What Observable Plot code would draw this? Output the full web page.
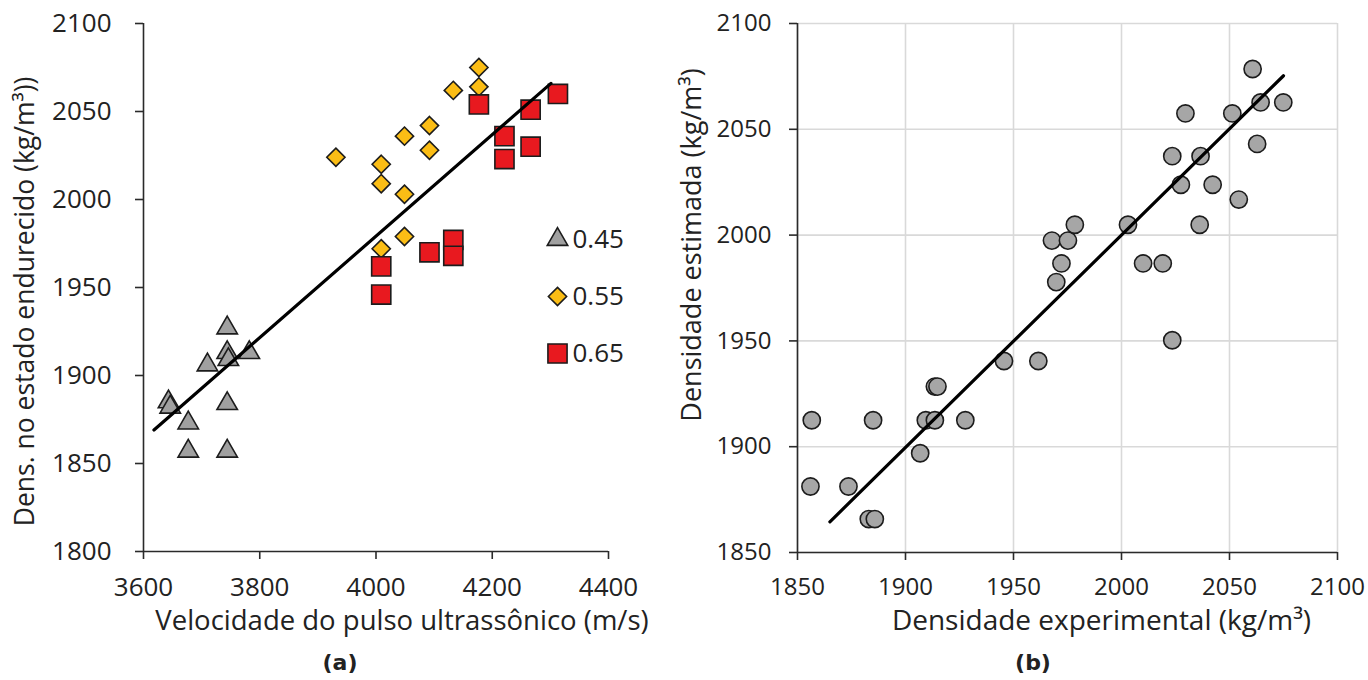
<!DOCTYPE html>
<html>
<head>
<meta charset="utf-8">
<script src="https://cdn.jsdelivr.net/npm/d3@7"></script>
<script src="https://cdn.jsdelivr.net/npm/@observablehq/plot@0.6"></script>
<style>
  html, body { margin: 0; padding: 0; background: #fff; }
  #wrap { position: relative; width: 1368px; height: 680px; overflow: hidden; background: #fff; }
  .panel { position: absolute; top: 0; }
  .cap { position: absolute; top: 649px; font-family: "DejaVu Sans", sans-serif; font-weight: bold; font-size: 22px; line-height: 28px; color: #222; transform: translateX(-50%); }
</style>
</head>
<body>
<div id="wrap">
  <div id="panelA" class="panel" style="left:0px;"></div>
  <div id="legendA" class="panel" style="left:535px;top:210px;"></div>
  <div id="panelB" class="panel" style="left:680px;"></div>
  <div class="cap" style="left:340px;">(a)</div>
  <div class="cap" style="left:1033px;">(b)</div>
</div>
<script>
// ---------- data: panel (a) ----------
const groupLabels = ["0.45", "0.55", "0.65"];
const vel045  = [3643, 3646, 3677, 3677, 3710, 3744, 3744, 3746, 3744, 3744, 3782];
const dens045 = [1885, 1882, 1873, 1857, 1906, 1927, 1913, 1909, 1884, 1857, 1913];
const vel055  = [3931, 4009, 4009, 4049, 4049, 4092, 4092, 4133, 4177, 4177, 4009, 4049];
const dens055 = [2024, 2020, 2009, 2036, 2003, 2042, 2028, 2062, 2075, 2064, 1972, 1979];
const vel065  = [4177, 4266, 4313, 4221, 4221, 4266, 4009, 4009, 4092, 4133, 4133];
const dens065 = [2054, 2051, 2060, 2036, 2023, 2030, 1962, 1946, 1970, 1977, 1968];
const trendAX = [3618, 4301];
const trendAY = [1869, 2066];
const velTicks = [3600, 3800, 4000, 4200, 4400];
const densTicksA = [1800, 1850, 1900, 1950, 2000, 2050, 2100];
const xTitleA = "Velocidade do pulso ultrassônico (m/s)";
const yTitleA = "Dens. no estado endurecido (kg/m³))";

// ---------- data: panel (b) ----------
const expDens = [1856.6, 1856, 1873.6, 1885, 1883, 1885.8, 1906.8, 1909.4, 1913.6, 1913.6, 1914.8, 1927.7,
                 1945.6, 1961.5, 1969.8, 1972.2, 1967.8, 1975.2, 1978.4, 2003, 2010, 2019.1, 2023.5, 2023.5,
                 2027.5, 2029.6, 2036.2, 2036.6, 2042.2, 2051.3, 2054.3, 2060.7, 2062.8, 2064.4, 2074.9];
const estDens = [1912.5, 1881.2, 1881.2, 1912.5, 1865.8, 1865.8, 1896.9, 1912.5, 1912.5, 1928.4, 1928.4, 1912.5,
                 1940.5, 1940.5, 1977.8, 1986.6, 1997.4, 1997.4, 2004.9, 2004.9, 1986.6, 1986.6, 1950.3, 2037.3,
                 2023.8, 2057.5, 2004.9, 2037.3, 2023.8, 2057.5, 2016.8, 2078.5, 2043.1, 2062.7, 2062.7];
const trendBX = [1865, 2075];
const trendBY = [1864.5, 2075.3];
const ticksB = [1850, 1900, 1950, 2000, 2050, 2100];
const xTitleB = "Densidade experimental (kg/m³)";
const yTitleB = "Densidade estimada (kg/m³)";

// ---------- build tables ----------
const zip = (xs, ys) => xs.map((x, i) => ({x, y: ys[i]}));
const ptsA = [zip(vel045, dens045), zip(vel055, dens055), zip(vel065, dens065)];
const trendA = zip(trendAX, trendAY);
const ptsB = zip(expDens, estDens);
const trendB = zip(trendBX, trendBY);

const fmt = d3.format("d");
const font = "'Open Sans', Lato, sans-serif";
const axisColor = "#2a2a2a";
const textColor = "#222222";
const markerStroke = "#1c1c1c";
const styleA = {
  symbols: ["triangle", "diamond2", "square"],
  fills: ["#a0a0a0", "#fbbd15", "#e8191f"],
  radii: [7.6, 8.2, 10.8]
};

const groupDots = (data, g, extra = {}) => Plot.dot(data, {
  symbol: () => styleA.symbols[g],
  ...extra,
  r: styleA.radii[g],
  fill: styleA.fills[g],
  stroke: markerStroke,
  strokeWidth: 1.6
});

// ---------- panel (a) ----------
const plotA = Plot.plot({
  width: 680, height: 640,
  marginLeft: 143, marginRight: 72, marginTop: 23, marginBottom: 89,
  style: {fontFamily: font, color: textColor, background: "transparent", overflow: "visible"},
  x: {domain: [velTicks[0], velTicks[velTicks.length - 1]]},
  y: {domain: [densTicksA[0], densTicksA[densTicksA.length - 1]]},
  symbol: {type: "identity"},
  marks: [
    Plot.ruleY([densTicksA[0]], {stroke: axisColor, strokeWidth: 1.6}),
    Plot.ruleX([velTicks[0]], {stroke: axisColor, strokeWidth: 1.6}),
    Plot.axisX({ticks: velTicks, tickFormat: fmt, tickSize: 8, tickPadding: 18, label: null,
                stroke: axisColor, fill: textColor, strokeWidth: 1.6, fontSize: 26}),
    Plot.axisY({ticks: densTicksA, tickFormat: fmt, tickSize: 8, tickPadding: 24, label: null,
                stroke: axisColor, fill: textColor, strokeWidth: 1.6, fontSize: 26}),
    ...ptsA.map((d, g) => groupDots(d, g, {x: "x", y: "y"})),
    Plot.line(trendA, {x: "x", y: "y", stroke: "#000", strokeWidth: 3.2}),
    Plot.text([xTitleA], {text: d => d, frameAnchor: "bottom", dy: 70, dx: 26, lineAnchor: "middle",
                          fontSize: 27.5, fill: textColor}),
    Plot.text([yTitleA], {text: d => d, frameAnchor: "left", textAnchor: "middle", lineAnchor: "middle",
                          rotate: -90, dx: -118, dy: 14, fontSize: 26.5, fill: textColor})
  ]
});
document.getElementById("panelA").appendChild(plotA);

// ---------- legend of panel (a) ----------
const legendA = Plot.plot({
  width: 110, height: 160,
  marginTop: 0, marginBottom: 0, marginRight: 0, marginLeft: 22,
  style: {fontFamily: font, color: textColor, background: "transparent", overflow: "visible"},
  y: {type: "point", domain: groupLabels, range: [29, 143], padding: 0, axis: null},
  symbol: {type: "identity"},
  marks: [
    ...groupLabels.map((lab, g) => groupDots([lab], g, {y: d => d, frameAnchor: "left"})),
    Plot.text(groupLabels, {y: d => d, text: d => d, frameAnchor: "left", dx: 15, textAnchor: "start",
                            lineAnchor: "middle", fontSize: 26, fill: textColor})
  ]
});
document.getElementById("legendA").appendChild(legendA);

// ---------- panel (b) ----------
const plotB = Plot.plot({
  width: 688, height: 640,
  marginLeft: 117, marginRight: 31, marginTop: 23, marginBottom: 88,
  style: {fontFamily: font, color: textColor, background: "transparent", overflow: "visible"},
  x: {domain: [ticksB[0], ticksB[ticksB.length - 1]]},
  y: {domain: [ticksB[0], ticksB[ticksB.length - 1]]},
  marks: [
    Plot.gridX({ticks: ticksB, stroke: "#d9d9d9", strokeOpacity: 1, strokeWidth: 1.6}),
    Plot.gridY({ticks: ticksB, stroke: "#d9d9d9", strokeOpacity: 1, strokeWidth: 1.6}),
    Plot.ruleY([ticksB[0]], {stroke: axisColor, strokeWidth: 1.6}),
    Plot.ruleX([ticksB[0]], {stroke: axisColor, strokeWidth: 1.6}),
    Plot.axisX({ticks: ticksB, tickFormat: fmt, tickSize: 8, tickPadding: 17, label: null,
                stroke: axisColor, fill: textColor, strokeWidth: 1.6, fontSize: 24}),
    Plot.axisY({ticks: ticksB, tickFormat: fmt, tickSize: 8, tickPadding: 18, label: null,
                stroke: axisColor, fill: textColor, strokeWidth: 1.6, fontSize: 24}),
    Plot.dot(ptsB, {x: "x", y: "y", r: 8.6, fill: "#a6a6a6", stroke: markerStroke, strokeWidth: 1.6}),
    Plot.line(trendB, {x: "x", y: "y", stroke: "#000", strokeWidth: 3.2}),
    Plot.text([xTitleB], {text: d => d, frameAnchor: "bottom", dy: 69, dx: 34, lineAnchor: "middle",
                          fontSize: 28, fill: textColor}),
    Plot.text([yTitleB], {text: d => d, frameAnchor: "left", textAnchor: "middle", lineAnchor: "middle",
                          rotate: -90, dx: -105, dy: -43, fontSize: 27, fill: textColor})
  ]
});
document.getElementById("panelB").appendChild(plotB);
</script>
</body>
</html>
